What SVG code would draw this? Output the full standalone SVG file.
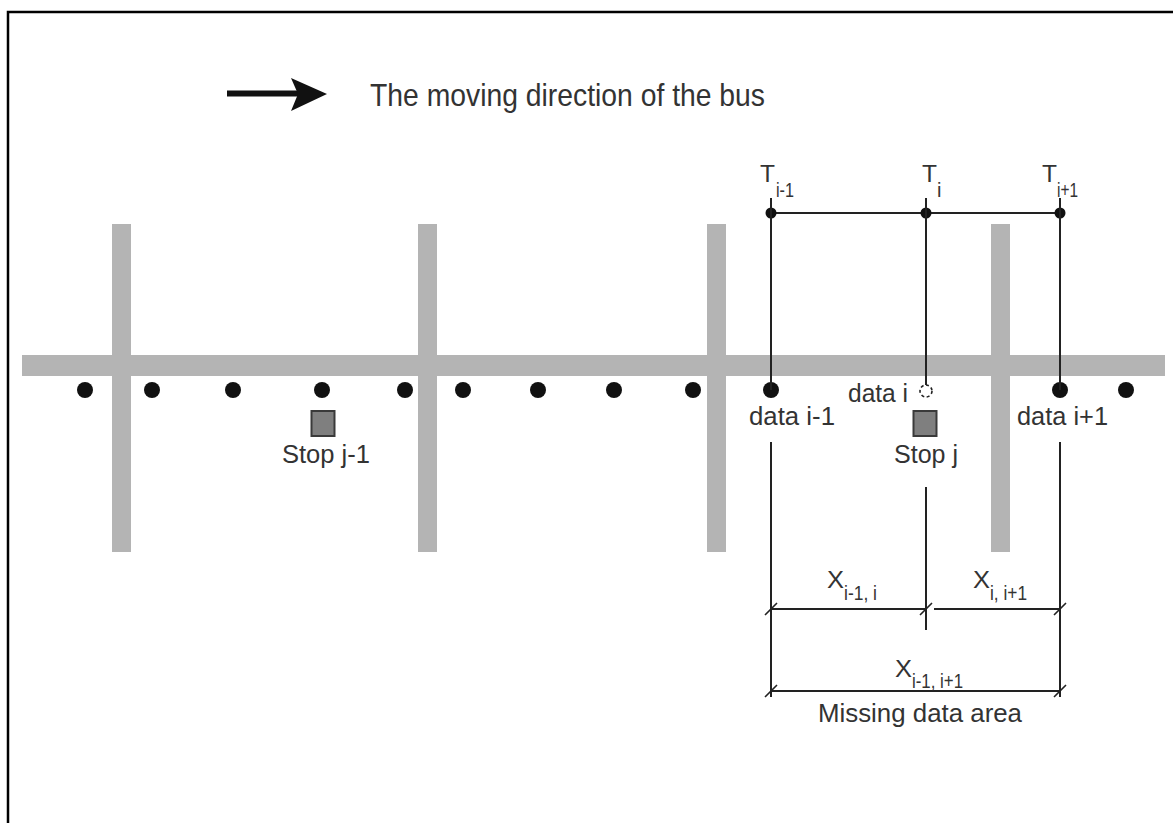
<svg xmlns="http://www.w3.org/2000/svg" width="1173" height="823" viewBox="0 0 1173 823">
  <style>
    .road { fill: #b4b4b4; }
    .pt { fill: #111; }
    .ln { stroke: #222; stroke-width: 2; fill: none; }
    .tick { stroke: #222; stroke-width: 1.6; fill: none; }
    .stop { fill: #7f7f7f; stroke: #3a3a3a; stroke-width: 2; }
    text { font-family: "Liberation Sans", Arial, sans-serif; fill: #333; }
    .lbl { font-size: 26px; }
    .sym { font-size: 24px; }
    .sub { font-size: 20px; }
  </style>

  <rect width="1173" height="823" fill="#fff"/>
  <!-- frame -->
  <path d="M8,823 V12 H1173" fill="none" stroke="#000" stroke-width="2.5"/>

  <!-- direction legend -->
  <g id="legend">
    <line x1="227" y1="93.5" x2="300" y2="93.5" stroke="#111" stroke-width="6"/>
    <polygon points="291,78 327,94 291,111 298,94" fill="#111"/>
    <text x="370" y="106" font-size="32" textLength="395" lengthAdjust="spacingAndGlyphs">The moving direction of the bus</text>
  </g>

  <!-- streets -->
  <g id="streets">
    <rect class="road" x="22" y="355" width="1143" height="21"/>
    <rect class="road" x="112" y="224" width="19" height="328"/>
    <rect class="road" x="418" y="224" width="19" height="328"/>
    <rect class="road" x="707" y="224" width="19" height="328"/>
    <rect class="road" x="991" y="224" width="19" height="328"/>
  </g>

  <!-- GPS data points -->
  <g id="data-points">
    <circle class="pt" cx="85" cy="390" r="8"/>
    <circle class="pt" cx="152" cy="390" r="8"/>
    <circle class="pt" cx="233" cy="390" r="8"/>
    <circle class="pt" cx="322" cy="390" r="8"/>
    <circle class="pt" cx="405" cy="390" r="8"/>
    <circle class="pt" cx="463" cy="390" r="8"/>
    <circle class="pt" cx="538" cy="390" r="8"/>
    <circle class="pt" cx="614" cy="390" r="8"/>
    <circle class="pt" cx="693" cy="390" r="8"/>
    <circle class="pt" cx="1126" cy="390" r="8"/>
  </g>

  <g id="data-i-1">
    <circle class="pt" cx="771" cy="390" r="8"/>
    <text class="lbl" x="749" y="425" textLength="86" lengthAdjust="spacingAndGlyphs">data i-1</text>
  </g>
  <g id="data-i">
    <circle cx="926" cy="391" r="6" fill="none" stroke="#222" stroke-width="1.6" stroke-dasharray="3 2.5"/>
    <text class="lbl" x="848" y="402" textLength="60" lengthAdjust="spacingAndGlyphs">data i</text>
  </g>
  <g id="data-i1">
    <circle class="pt" cx="1060" cy="390" r="8"/>
    <text class="lbl" x="1017" y="425" textLength="91" lengthAdjust="spacingAndGlyphs">data i+1</text>
  </g>

  <!-- bus stops -->
  <g id="stop-j-1">
    <rect class="stop" x="311.5" y="411" width="23" height="25"/>
    <text class="lbl" x="326" y="463" text-anchor="middle" textLength="88" lengthAdjust="spacingAndGlyphs">Stop j-1</text>
  </g>
  <g id="stop-j">
    <rect class="stop" x="913.5" y="411" width="23" height="25"/>
    <text class="lbl" x="926" y="463" text-anchor="middle" textLength="64" lengthAdjust="spacingAndGlyphs">Stop j</text>
  </g>

  <!-- time axis -->
  <g id="time-axis">
    <line class="ln" x1="771" y1="213" x2="1060" y2="213"/>
    <circle class="pt" cx="771" cy="213" r="5.5"/>
    <circle class="pt" cx="926" cy="213" r="5.5"/>
    <circle class="pt" cx="1060" cy="213" r="5.5"/>
    <text class="sym" x="760" y="182" textLength="15" lengthAdjust="spacingAndGlyphs">T</text>
    <text class="sub" x="776" y="197" textLength="18" lengthAdjust="spacingAndGlyphs">i-1</text>
    <text class="sym" x="922" y="182" textLength="15" lengthAdjust="spacingAndGlyphs">T</text>
    <text class="sub" x="937" y="197">i</text>
    <text class="sym" x="1042" y="182" textLength="15" lengthAdjust="spacingAndGlyphs">T</text>
    <text class="sub" x="1057" y="197" textLength="21" lengthAdjust="spacingAndGlyphs">i+1</text>
  </g>

  <!-- connectors: projection and dimension lines -->
  <g id="connectors">
    <line class="ln" x1="771" y1="198" x2="771" y2="390"/>
    <line class="ln" x1="926" y1="198" x2="926" y2="385"/>
    <line class="ln" x1="1060" y1="198" x2="1060" y2="390"/>

    <line class="ln" x1="771" y1="442" x2="771" y2="697"/>
    <line class="ln" x1="926" y1="487" x2="926" y2="630"/>
    <line class="ln" x1="1060" y1="442" x2="1060" y2="697"/>

    <line class="ln" x1="771" y1="609" x2="926" y2="609"/>
    <line class="ln" x1="934" y1="609" x2="1060" y2="609"/>
    <line class="ln" x1="771" y1="691" x2="1060" y2="691"/>

    <path class="tick" d="M765,615 L777,603 M920,615 L932,603 M1054,615 L1066,603 M765,697 L777,685 M1054,697 L1066,685"/>
  </g>

  <!-- dimension labels -->
  <g id="dim-labels">
    <text class="sym" x="827" y="588" textLength="17" lengthAdjust="spacingAndGlyphs">X</text>
    <text class="sub" x="844" y="600" textLength="33" lengthAdjust="spacingAndGlyphs">i-1, i</text>
    <text class="sym" x="973" y="588" textLength="17" lengthAdjust="spacingAndGlyphs">X</text>
    <text class="sub" x="990" y="600" textLength="37" lengthAdjust="spacingAndGlyphs">i, i+1</text>
    <text class="sym" x="895" y="677" textLength="17" lengthAdjust="spacingAndGlyphs">X</text>
    <text class="sub" x="912" y="688" textLength="51" lengthAdjust="spacingAndGlyphs">i-1, i+1</text>
    <text class="lbl" x="920" y="722" text-anchor="middle" textLength="204" lengthAdjust="spacingAndGlyphs">Missing data area</text>
  </g>
</svg>
